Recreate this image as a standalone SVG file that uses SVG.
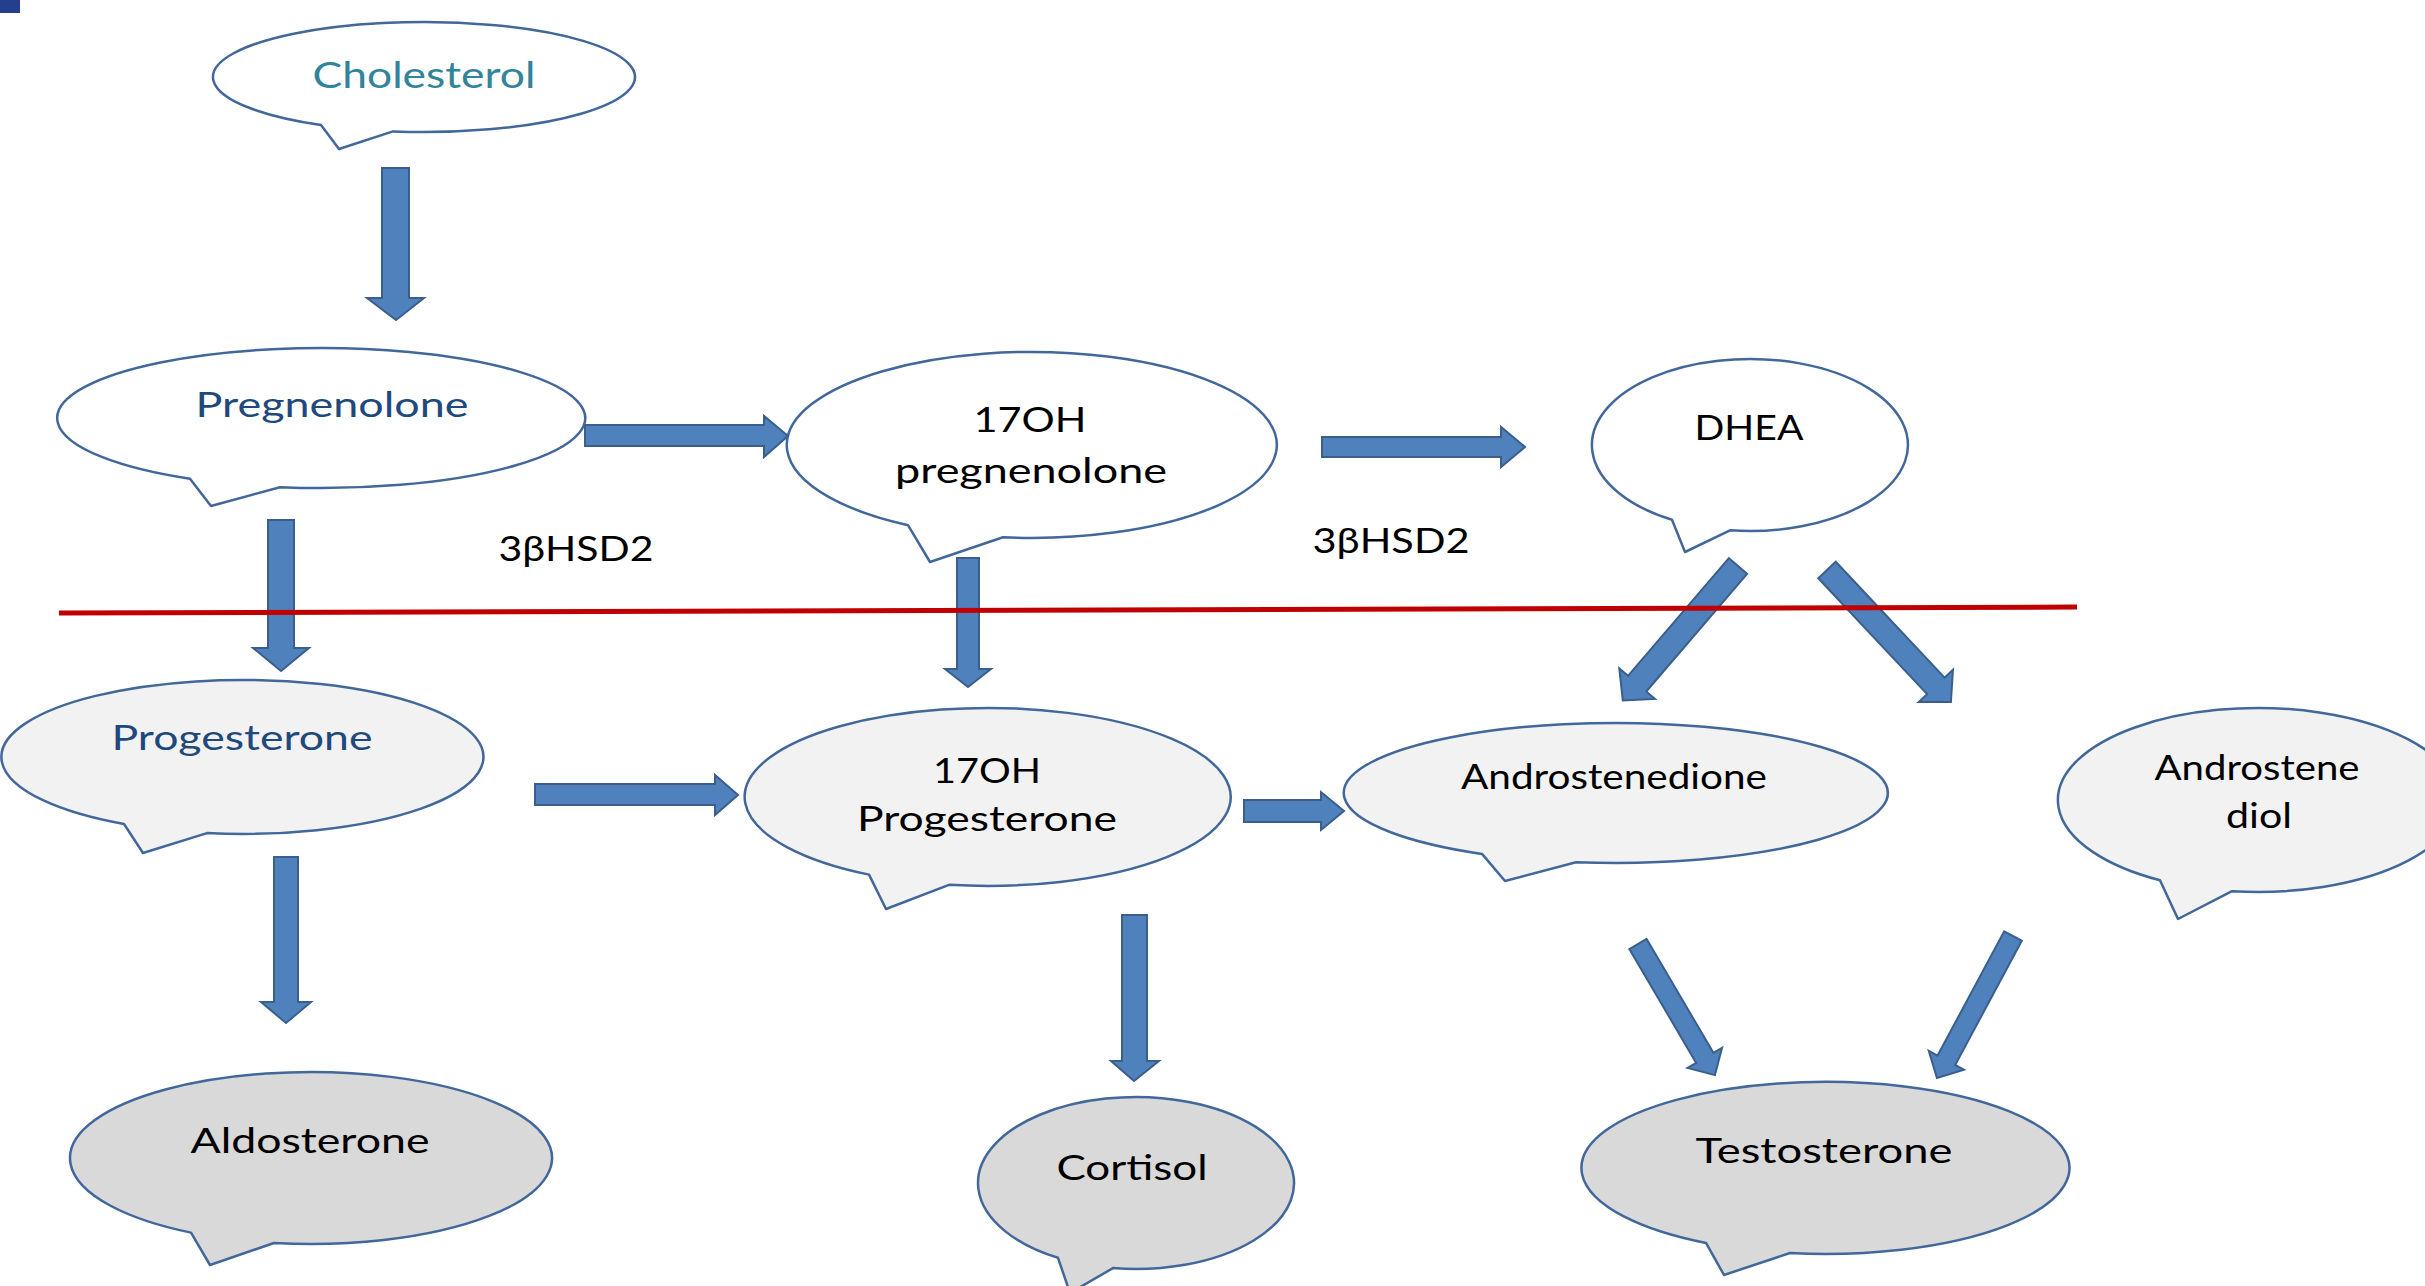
<svg xmlns="http://www.w3.org/2000/svg" width="2425" height="1286" viewBox="0 0 2425 1286">
<style>
.b{stroke:#41679B;stroke-width:2.5;stroke-linejoin:round}
.w{fill:#FFFFFF}
.l{fill:#F2F2F2}
.d{fill:#D9D9D9}
.a{fill:#4F81BD;stroke:#3A5F8C;stroke-width:2;stroke-linejoin:miter}
.t{font-family:Lato,"Open Sans","Liberation Sans",sans-serif;font-size:34px;text-anchor:middle;fill:#000000}
.bl{fill:#1F497D}
</style>
<rect x="0" y="0" width="20" height="13" fill="#253F8F"/>
<g id="cholesterol">
<path class="b w" d="M321,125 A211,55 0 1 1 393,131.4 L339,149 Z"/>
<text class="t" x="424" y="88" style="font-size:37px;fill:#31849B" textLength="223" lengthAdjust="spacingAndGlyphs">Cholesterol</text>
</g>
<g id="pregnenolone">
<path class="b w" d="M190,478.8 A264,70 0 1 1 280,487.2 L211,506 Z"/>
<text class="t bl" x="332" y="417" textLength="273" lengthAdjust="spacingAndGlyphs">Pregnenolone</text>
</g>
<g id="oh-pregnenolone">
<path class="b w" d="M908,525.2 A245,93 0 1 1 1003,537.3 L930,562 Z"/>
<text class="t" x="1030" y="432" textLength="113" lengthAdjust="spacingAndGlyphs">17OH</text>
<text class="t" x="1031" y="483" textLength="272" lengthAdjust="spacingAndGlyphs">pregnenolone</text>
</g>
<g id="dhea">
<path class="b w" d="M1672,519.8 A158,86 0 1 1 1730,530.3 L1685,552 Z"/>
<text class="t" x="1749" y="440" textLength="109" lengthAdjust="spacingAndGlyphs">DHEA</text>
</g>
<g id="progesterone">
<path class="b l" d="M124,824 A241,77 0 1 1 207,833.1 L143,853 Z"/>
<text class="t bl" x="242" y="750" textLength="261" lengthAdjust="spacingAndGlyphs">Progesterone</text>
</g>
<g id="oh-progesterone">
<path class="b l" d="M869,874.6 A243,89 0 1 1 949,884.8 L886,909 Z"/>
<text class="t" x="987" y="783" textLength="108" lengthAdjust="spacingAndGlyphs">17OH</text>
<text class="t" x="987" y="831" textLength="260" lengthAdjust="spacingAndGlyphs">Progesterone</text>
</g>
<g id="androstenedione">
<path class="b l" d="M1482,853.9 A272,70 0 1 1 1576,862.2 L1505,881 Z"/>
<text class="t" x="1614" y="789" textLength="306" lengthAdjust="spacingAndGlyphs">Androstenedione</text>
</g>
<g id="androstenediol">
<path class="b l" d="M2160,880.2 A200,92 0 1 1 2232,891.2 L2178,919 Z"/>
<text class="t" x="2257" y="780" textLength="205" lengthAdjust="spacingAndGlyphs">Androstene</text>
<text class="t" x="2259" y="828" textLength="66" lengthAdjust="spacingAndGlyphs">diol</text>
</g>
<g id="aldosterone">
<path class="b d" d="M191,1232.6 A241,86 0 1 1 274,1243 L210,1265 Z"/>
<text class="t" x="310" y="1153" textLength="239" lengthAdjust="spacingAndGlyphs">Aldosterone</text>
</g>
<g id="cortisol">
<path class="b d" d="M1058,1257.8 A158,86 0 1 1 1113,1268.1 L1070,1293 Z"/>
<text class="t" x="1132" y="1180" textLength="151" lengthAdjust="spacingAndGlyphs">Cortisol</text>
</g>
<g id="testosterone">
<path class="b d" d="M1706,1242.9 A244,86 0 1 1 1790,1253 L1724,1275 Z"/>
<text class="t" x="1824" y="1163" textLength="257" lengthAdjust="spacingAndGlyphs">Testosterone</text>
</g>
<g id="enzyme-labels">
<text class="t" x="576" y="561" textLength="155" lengthAdjust="spacingAndGlyphs">3βHSD2</text>
<text class="t" x="1391" y="553" textLength="157" lengthAdjust="spacingAndGlyphs">3βHSD2</text>
</g>
<g id="connectors">
<polygon class="a" points="382,168 409,168 409,298 424,298 396,320 367,298 382,298"/>
<polygon class="a" points="268,520 294,520 294,648 309,648 281,671 253,648 268,648"/>
<polygon class="a" points="957,558 979,558 979,669 991,669 968,687 945,669 957,669"/>
<polygon class="a" points="274,857 298,857 298,1002 311,1002 286,1023 261,1002 274,1002"/>
<polygon class="a" points="1122,915 1147,915 1147,1061 1159,1061 1134,1081 1111,1061 1122,1061"/>
<polygon class="a" points="585,425 764,425 764,416 788,436 764,457 764,446 585,446"/>
<polygon class="a" points="1322,437 1501,437 1501,427 1525,447 1501,467 1501,457 1322,457"/>
<polygon class="a" points="535,784 715,784 715,775 738,795 715,815 715,805 535,805"/>
<polygon class="a" points="1244,800 1321,800 1321,792 1344,811 1321,830 1321,822 1244,822"/>
<path class="a" transform="translate(1738,566) rotate(130.6)" d="M0,-12 L155,-12 L155,-23.5 L177,0 L155,23.5 L155,12 L0,12 Z"/>
<path class="a" transform="translate(1827,570) rotate(46.8)" d="M0,-12 L159,-12 L159,-23.5 L181,0 L159,23.5 L159,12 L0,12 Z"/>
<path class="a" transform="translate(1638,944) rotate(59.6)" d="M0,-10 L132,-10 L132,-20 L152,0 L132,20 L132,10 L0,10 Z"/>
<path class="a" transform="translate(2013,936) rotate(118.2)" d="M0,-10 L141,-10 L141,-20 L161,0 L141,20 L141,10 L0,10 Z"/>
<line x1="59" y1="613" x2="2077" y2="607" stroke="#C00000" stroke-width="5"/>
</g>
</svg>
